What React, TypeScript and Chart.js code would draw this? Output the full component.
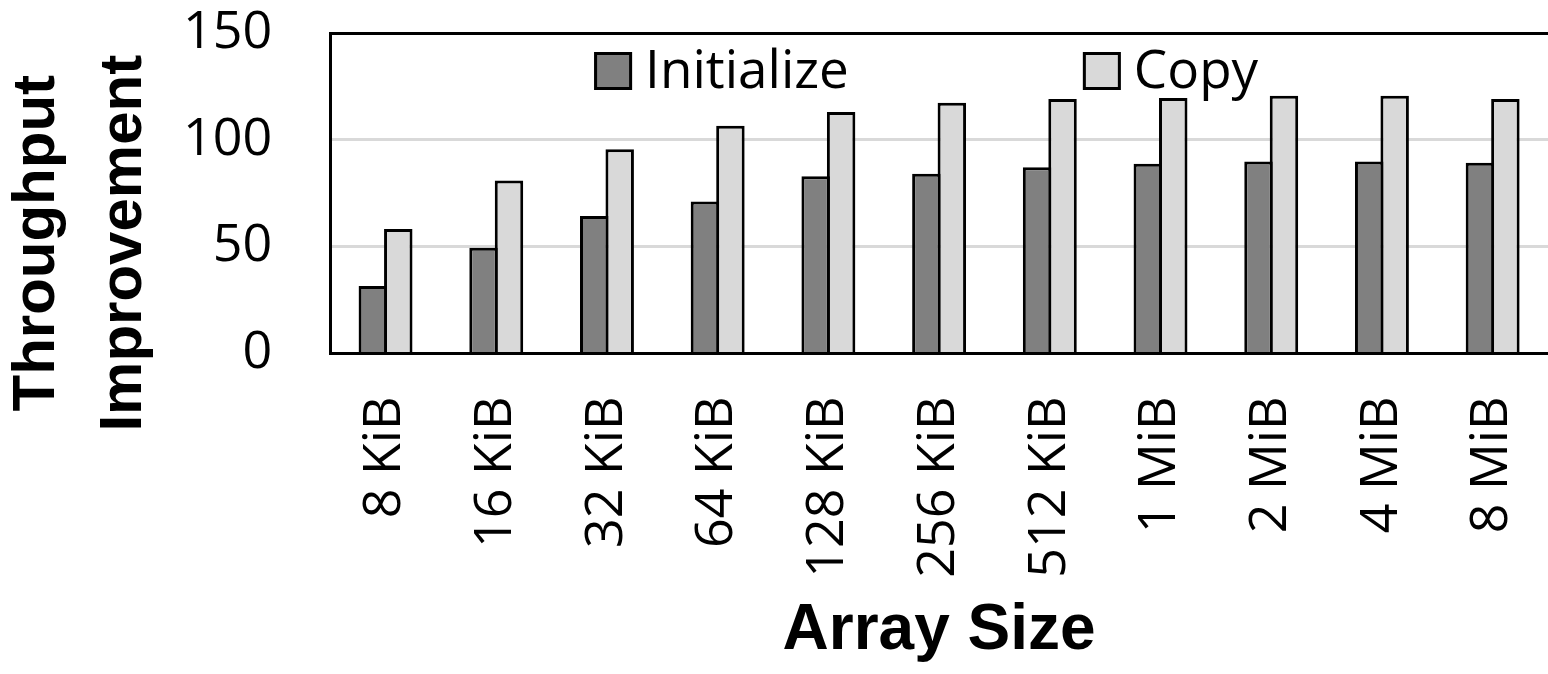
import React, { useEffect, useRef } from "react";
import { Chart, registerables } from "chart.js";

Chart.register(...registerables);

const categories = ["8 KiB", "16 KiB", "32 KiB", "64 KiB", "128 KiB", "256 KiB", "512 KiB", "1 MiB", "2 MiB", "4 MiB", "8 MiB"];
const initializeValues = [31.6, 49.5, 64.3, 71.1, 82.9, 84.1, 87.2, 88.8, 89.9, 89.9, 89.3];
const copyValues = [58.2, 80.9, 95.6, 106.6, 113.0, 117.3, 119.1, 119.6, 120.6, 120.6, 119.1];
const seriesLabels = ["Initialize", "Copy"];
const seriesColors = ["#808080", "#d9d9d9"];
const yTicks = [0, 50, 100, 150];
const xTitle = "Array Size";
const yTitle = ["Throughput", "Improvement"];

const TICK_FONT = "'Open Sans', 'Noto Sans', sans-serif";
const TITLE_FONT = "'Liberation Sans', Arial, sans-serif";
const NBSP = "\u00A0";
const TRANSPARENT = "rgba(0,0,0,0)";

const innerLegend = {
  id: "innerLegend",
  afterDraw(chart: any) {
    const { ctx, chartArea } = chart;
    ctx.save();
    ctx.font = `53px ${TICK_FONT}`;
    const box = 38;
    const gap = 13;
    const spacing = 234;
    const items = chart.data.datasets.map((ds: any) => ({
      label: ds.label as string,
      color: ds.backgroundColor as string,
      w: ctx.measureText(ds.label).width,
    }));
    const total =
      items.reduce((s: number, it: any) => s + box + gap + it.w, 0) + spacing * (items.length - 1);
    let x = (chartArea.left + chartArea.right) / 2 - total / 2 - 13;
    const top = chartArea.top + 19;
    items.forEach((it: any) => {
      ctx.fillStyle = it.color;
      ctx.fillRect(x, top, box, box);
      ctx.lineWidth = 3;
      ctx.strokeStyle = "#000";
      ctx.strokeRect(x + 1.5, top + 1.5, box - 3, box - 3);
      ctx.fillStyle = "#000";
      ctx.textAlign = "left";
      ctx.textBaseline = "alphabetic";
      ctx.fillText(it.label, x + box + gap, top + 36);
      x += box + gap + it.w + spacing;
    });
    ctx.restore();
  },
};

export default function App() {
  const canvasRef = useRef<HTMLCanvasElement | null>(null);

  useEffect(() => {
    document.body.style.margin = "0";
    const canvas = canvasRef.current;
    if (!canvas) return;
    const chart = new Chart(canvas, {
      type: "bar",
      data: {
        labels: categories,
        datasets: [
          {
            label: seriesLabels[0],
            data: initializeValues,
            backgroundColor: seriesColors[0],
            borderColor: "#000",
            borderWidth: 3,
            categoryPercentage: 0.46,
            barPercentage: 1.118,
          },
          {
            label: seriesLabels[1],
            data: copyValues,
            backgroundColor: seriesColors[1],
            borderColor: "#000",
            borderWidth: 3,
            categoryPercentage: 0.46,
            barPercentage: 1.118,
          },
        ],
      },
      options: {
        responsive: false,
        animation: false,
        devicePixelRatio: 1,
        layout: { padding: { left: 0, right: 0, top: 33, bottom: 4 } },
        plugins: {
          legend: { display: false },
          tooltip: { enabled: false },
        },
        scales: {
          x: {
            grid: {
              display: true,
              drawOnChartArea: false,
              drawTicks: true,
              tickLength: 43,
              color: TRANSPARENT,
              tickColor: TRANSPARENT,
            },
            border: { display: true, color: "#000", width: 3, z: 1 },
            ticks: {
              minRotation: 90,
              maxRotation: 90,
              padding: 0,
              color: "#000",
              font: { family: TICK_FONT, size: 52, lineHeight: 1.0 },
            },
            title: {
              display: true,
              text: xTitle,
              color: "#000",
              font: { family: TITLE_FONT, weight: "bold", size: 64 },
              padding: { top: 15.5, bottom: 0 },
            },
          },
          y: {
            min: 0,
            max: 150,
            afterBuildTicks: (axis: any) => {
              axis.ticks = yTicks.map((v) => ({ value: v }));
            },
            ticks: {
              padding: 0,
              color: "#000",
              font: { family: TICK_FONT, size: 52 },
            },
            grid: {
              color: (c: any) =>
                c.tick && c.tick.value === 150 ? "#000" : c.tick && c.tick.value === 0 ? TRANSPARENT : "#d9d9d9",
              lineWidth: 3,
              drawTicks: true,
              tickLength: 58,
              tickColor: TRANSPARENT,
            },
            border: { display: true, color: "#000", width: 3, z: 1 },
            title: {
              display: true,
              text: yTitle.map((t) => t + NBSP.repeat(6)),
              color: "#000",
              font: { family: TITLE_FONT, weight: "bold", size: 60, lineHeight: 1.45 },
              padding: { top: -6, bottom: 15 },
            },
          },
        },
      },
      plugins: [innerLegend],
    });
    return () => chart.destroy();
  }, []);

  return (
    <div style={{ width: 1548, height: 674 }}>
      <canvas ref={canvasRef} width={1548} height={674} style={{ display: "block" }} />
    </div>
  );
}
